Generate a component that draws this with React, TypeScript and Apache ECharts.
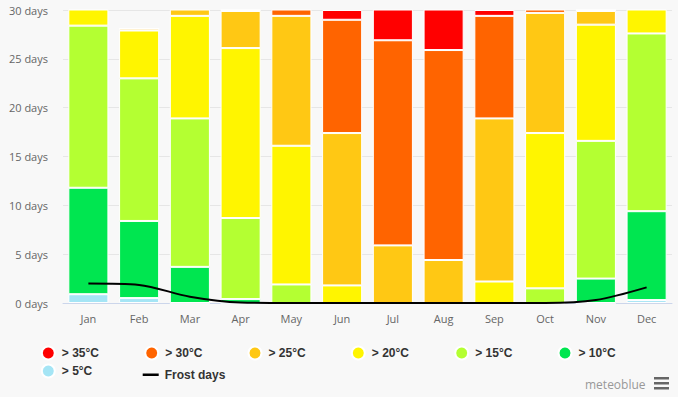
import React, { useEffect, useRef } from "react";
import * as echarts from "echarts";

const months = ["Jan", "Feb", "Mar", "Apr", "May", "Jun", "Jul", "Aug", "Sep", "Oct", "Nov", "Dec"];
const over5 = [0.9, 0.5, 0, 0, 0, 0, 0, 0, 0, 0, 0, 0.3];
const over10 = [10.9, 7.9, 3.7, 0.4, 0, 0, 0, 0, 0, 0, 2.5, 9.1];
const over15 = [16.6, 14.6, 15.2, 8.3, 1.9, 0, 0, 0, 0, 1.5, 14.1, 18.2];
const over20 = [2.6, 4.9, 10.5, 17.4, 14.2, 1.8, 0, 0, 2.2, 15.9, 11.9, 3.4];
const over25 = [0, 0.2, 1.6, 3.8, 13.3, 15.6, 5.9, 4.4, 16.7, 12.3, 1.4, 0];
const over30 = [0, 0, 0, 0.1, 1.6, 11.6, 21.0, 21.5, 10.5, 1.3, 0.1, 0];
const over35 = [0, 0, 0, 0, 0, 1.0, 4.1, 5.1, 0.6, 0, 0, 0];
const frostDays = [2.0, 1.85, 0.65, 0.05, 0, 0, 0, 0, 0, 0, 0.3, 1.6];
const yTicks = [0, 5, 10, 15, 20, 25, 30];

const bands = [
  { name: "> 5°C", data: over5, color: "#a5e5f5" },
  { name: "> 10°C", data: over10, color: "#00e650" },
  { name: "> 15°C", data: over15, color: "#b4ff32" },
  { name: "> 20°C", data: over20, color: "#fff500" },
  { name: "> 25°C", data: over25, color: "#ffc814" },
  { name: "> 30°C", data: over30, color: "#ff6400" },
  { name: "> 35°C", data: over35, color: "#ff0000" },
];

// legend placement: [name, circle center x, row center y]
const legendSlots: [string, number, number][] = [
  ["> 35°C", 47.3, 352],
  ["> 30°C", 150.7, 352],
  ["> 25°C", 254, 352],
  ["> 20°C", 357.3, 352],
  ["> 15°C", 460.7, 352],
  ["> 10°C", 564, 352],
  ["> 5°C", 47.3, 370],
];

export default function App() {
  const ref = useRef<HTMLDivElement>(null);
  useEffect(() => {
    if (!ref.current) return;
    const chart = echarts.init(ref.current, undefined, { renderer: "svg" });
    const legendText = {
      fontFamily: "'Liberation Sans', Arial, sans-serif",
      fontWeight: "bold" as const,
      fontSize: 12,
      color: "#333",
      padding: [0, 0, 0, 2],
    };
    const legends: any[] = legendSlots.map(([name, cx, cy]) => ({
      left: cx - 6.5,
      top: cy - 6.5,
      padding: 0,
      itemWidth: 13,
      itemHeight: 13,
      textStyle: legendText,
      selectedMode: false,
      data: [{ name, icon: "circle" }],
    }));
    legends.push({
      left: 142.7,
      top: 370 - 1.25,
      padding: 0,
      itemWidth: 16,
      itemHeight: 2.5,
      textStyle: { ...legendText, padding: [0, 0, 0, 1] },
      selectedMode: false,
      data: [{ name: "Frost days", icon: "rect", itemStyle: { color: "#000" } }],
    });
    chart.setOption({
      animation: false,
      backgroundColor: "#f8f8f8",
      grid: { left: 63, right: 6, top: 10, bottom: 94 },
      legend: legends,
      xAxis: {
        type: "category",
        data: months,
        axisLine: { lineStyle: { color: "#ccd6eb" } },
        axisTick: { show: false },
        axisLabel: { color: "#666", fontSize: 11, margin: 10, fontFamily: "'Open Sans', sans-serif" },
      },
      yAxis: {
        type: "value",
        min: yTicks[0],
        max: yTicks[yTicks.length - 1],
        interval: 5,
        axisLabel: {
          formatter: "{value} days",
          color: "#666",
          fontSize: 11,
          margin: 15,
          fontFamily: "'Open Sans', sans-serif",
        },
        splitLine: { lineStyle: { color: "#e6e6e6" } },
      },
      series: [
        ...bands.map((b) => ({
          name: b.name,
          type: "bar",
          stack: "days",
          data: b.data,
          barCategoryGap: "21%",
          clip: true,
          itemStyle: { color: b.color, borderColor: "#ffffff", borderWidth: 1 },
        })),
        {
          name: "Frost days",
          type: "line",
          data: frostDays,
          smooth: 0.3,
          symbol: "none",
          showSymbol: false,
          z: 10,
          lineStyle: { color: "#000", width: 2 },
          itemStyle: { color: "#000" },
        },
      ],
      graphic: [
        {
          type: "text",
          left: 585,
          top: 378,
          style: { text: "meteoblue", fill: "#999", fontSize: 12, fontFamily: "'Open Sans', sans-serif" },
        },
        { type: "rect", shape: { x: 654, y: 377, width: 15, height: 2.5 }, style: { fill: "#666" } },
        { type: "rect", shape: { x: 654, y: 382, width: 15, height: 2.5 }, style: { fill: "#666" } },
        { type: "rect", shape: { x: 654, y: 387, width: 15, height: 2.5 }, style: { fill: "#666" } },
      ],
    });
    return () => chart.dispose();
  }, []);
  return <div ref={ref} style={{ position: "fixed", left: 0, top: 0, width: 678, height: 397 }} />;
}
